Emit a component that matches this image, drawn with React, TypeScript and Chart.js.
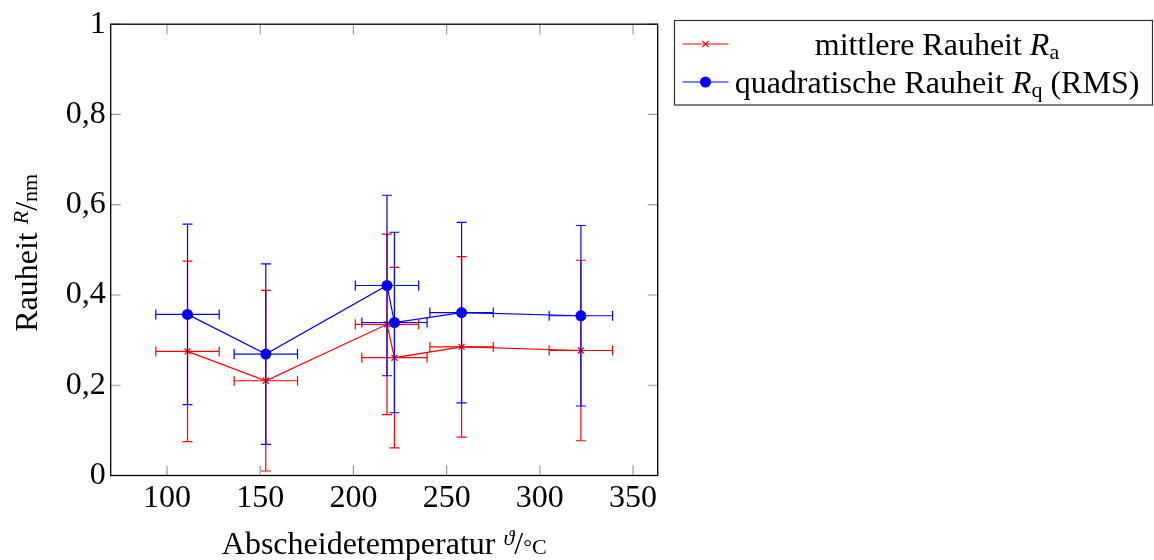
import React, { useEffect, useRef } from "react";
import { Chart, registerables } from "chart.js";

Chart.register(...registerables);

// ---- data ----
const temperatures = [111, 153, 218, 222, 258, 322];
const temperatureErrors = [17, 17, 17, 17.5, 17, 17];
const meanRoughness = [0.275, 0.21, 0.335, 0.261, 0.285, 0.277];
const meanRoughnessErrors = [0.2, 0.2, 0.2, 0.2, 0.2, 0.2];
const rmsRoughness = [0.357, 0.269, 0.421, 0.339, 0.361, 0.354];
const rmsRoughnessErrors = [0.2, 0.2, 0.2, 0.2, 0.2, 0.2];
const xTickValues = [100, 150, 200, 250, 300, 350];
const xTickLabels = ["100", "150", "200", "250", "300", "350"];
const yTickValues = [0, 0.2, 0.4, 0.6, 0.8, 1];
const yTickLabels = ["0", "0,2", "0,4", "0,6", "0,8", "1"];
const X_MIN = 69.8;
const X_MAX = 363.2;
const Y_MIN = 0;
const Y_MAX = 1;

const SERIF = "'Liberation Serif', 'Times New Roman', serif";
const FS = 32;
const SMALL = 22;
const RED = "#ff0000";
const BLUE = "#0000ff";

type Piece = { text: string; size: number; italic?: boolean; dy?: number };

function fontOf(p: Piece) {
  return `${p.italic ? "italic " : ""}${p.size}px ${SERIF}`;
}

function drawPieces(ctx: CanvasRenderingContext2D, pieces: Piece[], x: number, y: number, align: "left" | "center") {
  const widths = pieces.map((p) => {
    ctx.font = fontOf(p);
    return ctx.measureText(p.text).width;
  });
  const total = widths.reduce((a, b) => a + b, 0);
  let cx = align === "center" ? x - total / 2 : x;
  ctx.textAlign = "left";
  ctx.textBaseline = "alphabetic";
  pieces.forEach((p, i) => {
    ctx.font = fontOf(p);
    ctx.fillText(p.text, cx, y + (p.dy || 0));
    cx += widths[i];
  });
}

const pgfPlugin = {
  id: "pgfDecor",
  beforeDatasetsDraw(chart: any) {
    const { ctx, chartArea: a, scales } = chart;
    ctx.save();
    ctx.strokeStyle = "#9a9a9a";
    ctx.lineWidth = 1.2;
    const TL = 10;
    xTickValues.forEach((v) => {
      const px = scales.x.getPixelForValue(v);
      ctx.beginPath();
      ctx.moveTo(px, a.bottom);
      ctx.lineTo(px, a.bottom - TL);
      ctx.moveTo(px, a.top);
      ctx.lineTo(px, a.top + TL);
      ctx.stroke();
    });
    yTickValues.forEach((v) => {
      const py = scales.y.getPixelForValue(v);
      ctx.beginPath();
      ctx.moveTo(a.left, py);
      ctx.lineTo(a.left + TL, py);
      ctx.moveTo(a.right, py);
      ctx.lineTo(a.right - TL, py);
      ctx.stroke();
    });
    ctx.restore();
  },
  beforeDatasetDraw(chart: any, args: any) {
    const { ctx, scales } = chart;
    const ds: any = chart.data.datasets[args.index];
    const xs: number[] = ds.xValues;
    const ys: number[] = ds.yValues;
    const ex: number[] = ds.xErrors;
    const ey: number[] = ds.yErrors;
    const CAP = 5;
    ctx.save();
    ctx.strokeStyle = ds.borderColor;
    ctx.lineWidth = 1.2;
    xs.forEach((xv, i) => {
      const px = scales.x.getPixelForValue(xv);
      const py = scales.y.getPixelForValue(ys[i]);
      const yTop = scales.y.getPixelForValue(ys[i] + ey[i]);
      const yBot = scales.y.getPixelForValue(ys[i] - ey[i]);
      const xL = scales.x.getPixelForValue(xv - ex[i]);
      const xR = scales.x.getPixelForValue(xv + ex[i]);
      ctx.beginPath();
      ctx.moveTo(px, yTop);
      ctx.lineTo(px, yBot);
      ctx.moveTo(px - CAP, yTop);
      ctx.lineTo(px + CAP, yTop);
      ctx.moveTo(px - CAP, yBot);
      ctx.lineTo(px + CAP, yBot);
      ctx.moveTo(xL, py);
      ctx.lineTo(xR, py);
      ctx.moveTo(xL, py - CAP);
      ctx.lineTo(xL, py + CAP);
      ctx.moveTo(xR, py - CAP);
      ctx.lineTo(xR, py + CAP);
      ctx.stroke();
    });
    ctx.restore();
  },
  afterDraw(chart: any) {
    const { ctx, chartArea: a } = chart;
    ctx.save();
    // frame
    ctx.strokeStyle = "#000";
    ctx.lineWidth = 1.3;
    ctx.strokeRect(a.left, a.top, a.right - a.left, a.bottom - a.top);

    ctx.fillStyle = "#000";
    // x-axis title
    drawPieces(
      ctx,
      [
        { text: "Abscheidetemperatur ", size: FS },
        { text: "ϑ", size: SMALL, italic: true, dy: -9 },
        { text: "/", size: FS },
        { text: "°C", size: SMALL },
      ],
      (a.left + a.right) / 2,
      554,
      "center"
    );
    // y-axis title
    ctx.save();
    ctx.translate(37, (a.top + a.bottom) / 2 + 3);
    ctx.rotate(-Math.PI / 2);
    drawPieces(
      ctx,
      [
        { text: "Rauheit ", size: FS },
        { text: "R", size: SMALL, italic: true, dy: -9 },
        { text: "/", size: FS },
        { text: "nm", size: SMALL },
      ],
      0,
      0,
      "center"
    );
    ctx.restore();

    // legend
    const lx = 674.5, ly = 20.5, lw = 478, lh = 84.5;
    ctx.strokeStyle = "#333";
    ctx.lineWidth = 1.2;
    ctx.strokeRect(lx, ly, lw, lh);
    const rows = [
      {
        color: RED,
        y: 44,
        base: 55,
        marker: "cross",
        pieces: [
          { text: "mittlere Rauheit ", size: FS },
          { text: "R", size: FS, italic: true },
          { text: "a", size: SMALL, dy: 4 },
        ] as Piece[],
      },
      {
        color: BLUE,
        y: 82,
        base: 93,
        marker: "circle",
        pieces: [
          { text: "quadratische Rauheit ", size: FS },
          { text: "R", size: FS, italic: true },
          { text: "q", size: SMALL, dy: 4 },
          { text: " (RMS)", size: FS },
        ] as Piece[],
      },
    ];
    rows.forEach((r) => {
      ctx.strokeStyle = r.color;
      ctx.fillStyle = r.color;
      ctx.lineWidth = 1.2;
      ctx.beginPath();
      ctx.moveTo(682.5, r.y);
      ctx.lineTo(728.5, r.y);
      ctx.stroke();
      const mx = 705.5;
      if (r.marker === "cross") {
        const s = 3.2;
        ctx.beginPath();
        ctx.moveTo(mx - s, r.y - s);
        ctx.lineTo(mx + s, r.y + s);
        ctx.moveTo(mx - s, r.y + s);
        ctx.lineTo(mx + s, r.y - s);
        ctx.stroke();
      } else {
        ctx.beginPath();
        ctx.arc(mx, r.y, 5.5, 0, Math.PI * 2);
        ctx.fill();
      }
      ctx.fillStyle = "#000";
      drawPieces(ctx, r.pieces, 937, r.base, "center");
    });
    ctx.restore();
  },
};

export default function App() {
  const canvasRef = useRef<HTMLCanvasElement | null>(null);

  useEffect(() => {
    document.body.style.margin = "0";
    const canvas = canvasRef.current;
    if (!canvas) return;
    const tickFont = { family: SERIF, size: FS };
    const chart = new Chart(canvas, {
      type: "scatter",
      data: {
        datasets: [
          {
            label: "quadratische Rauheit Rq (RMS)",
            data: temperatures.map((t, i) => ({ x: t, y: rmsRoughness[i] })),
            xValues: temperatures,
            yValues: rmsRoughness,
            xErrors: temperatureErrors,
            yErrors: rmsRoughnessErrors,
            showLine: true,
            borderColor: BLUE,
            backgroundColor: BLUE,
            borderWidth: 1.2,
            pointStyle: "circle",
            pointRadius: 5.5,
            pointBorderWidth: 0,
            pointBackgroundColor: BLUE,
            order: 0,
          } as any,
          {
            label: "mittlere Rauheit Ra",
            data: temperatures.map((t, i) => ({ x: t, y: meanRoughness[i] })),
            xValues: temperatures,
            yValues: meanRoughness,
            xErrors: temperatureErrors,
            yErrors: meanRoughnessErrors,
            showLine: true,
            borderColor: RED,
            backgroundColor: RED,
            borderWidth: 1.2,
            pointStyle: "crossRot",
            pointRadius: 4.2,
            pointBorderWidth: 1.3,
            pointBorderColor: RED,
            order: 1,
          } as any,
        ],
      },
      options: {
        animation: false,
        responsive: false,
        layout: { padding: { top: 19.7, right: 1154 - 657.7, bottom: 0, left: 0 } },
        plugins: {
          legend: { display: false },
          tooltip: { enabled: false },
          title: { display: false },
        },
        scales: {
          x: {
            type: "linear",
            min: X_MIN,
            max: X_MAX,
            afterBuildTicks: (s: any) => {
              s.ticks = xTickValues.map((v) => ({ value: v }));
            },
            afterFit: (s: any) => {
              s.height = 560 - 475.5;
            },
            ticks: {
              autoSkip: false,
              maxRotation: 0,
              color: "#000",
              font: tickFont,
              padding: 4,
              callback: (v: any) => xTickLabels[xTickValues.indexOf(Number(v))],
            },
            grid: { display: false, drawTicks: false },
            border: { display: false },
          },
          y: {
            type: "linear",
            min: Y_MIN,
            max: Y_MAX,
            afterBuildTicks: (s: any) => {
              s.ticks = yTickValues.map((v) => ({ value: v }));
            },
            afterFit: (s: any) => {
              s.width = 110.7;
            },
            ticks: {
              autoSkip: false,
              color: "#000",
              font: tickFont,
              padding: 5,
              callback: (v: any) => yTickLabels[yTickValues.indexOf(Number(v))],
            },
            grid: { display: false, drawTicks: false },
            border: { display: false },
          },
        },
      },
      plugins: [pgfPlugin],
    } as any);
    return () => chart.destroy();
  }, []);

  return (
    <div style={{ width: 1154, height: 560, position: "relative", background: "#fff" }}>
      <canvas ref={canvasRef} width={1154} height={560} style={{ width: 1154, height: 560, display: "block" }} />
    </div>
  );
}
